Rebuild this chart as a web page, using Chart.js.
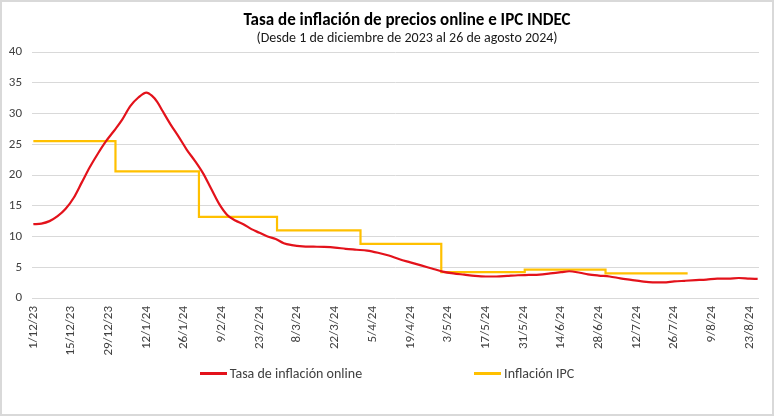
<!DOCTYPE html>
<html>
<head>
<meta charset="utf-8">
<title>Tasa de inflación de precios online e IPC INDEC</title>
<script src="https://cdn.jsdelivr.net/npm/chart.js@4"></script>
<style>
    body {
        margin: 0;
        background: #ffffff;
    }

    #wrap {
        position: relative;
        width: 774px;
        height: 416px;
        font-family: Carlito, Lato, sans-serif;
    }

    #frame {
        position: absolute;
        inset: 0;
        border: 2px solid #d9d9d9;
        pointer-events: none;
    }

    .head {
        position: absolute;
        left: 40px;
        width: 734px;
        text-align: center;
        white-space: nowrap;
    }

    #title {
        top: 9px;
        font-size: 17px;
        font-weight: bold;
        color: #000000;
    }

    #subtitle {
        top: 29px;
        font-size: 14px;
        color: #1a1a1a;
    }

    #legend {
        position: absolute;
        left: 0;
        top: 365px;
        width: 774px;
        display: flex;
        justify-content: center;
        gap: 112px;
        font-size: 14px;
        color: #404040;
    }

    .item {
        display: flex;
        align-items: center;
    }

    .swatch {
        width: 27px;
        height: 3px;
        margin-right: 3px;
    }
</style>
</head>
<body>

<div id="wrap">
    <canvas id="inflationChart" width="774" height="416"></canvas>
    <div id="title" class="head">Tasa de inflación de precios online e IPC INDEC</div>
    <div id="subtitle" class="head">(Desde 1 de diciembre de 2023 al 26 de agosto 2024)</div>
    <div id="legend"></div>
    <div id="frame"></div>
</div>

<script>

// days counted from 1/12/2023
const onlineDays = [
    0, 3, 6, 9, 12, 15, 18, 21, 24, 27, 30, 33, 36, 39, 42, 44, 46, 48,
    51, 54, 57, 60, 63, 66, 69, 72, 75, 78, 81, 84, 87, 90, 93, 96, 100,
    104, 108, 112, 116, 120, 124, 128, 132, 136, 140, 144, 148, 152, 156,
    160, 164, 168, 172, 176, 180, 184, 188, 192, 196, 199, 203, 206, 210,
    214, 218, 222, 226, 230, 234, 238, 242, 246, 250, 254, 258, 262, 266, 269
];

const onlineValues = [
    12.0, 12.1, 12.5, 13.3, 14.5, 16.3, 18.8, 21.3, 23.5, 25.5, 27.2, 29.0, 31.2, 32.6, 33.4, 32.9, 31.9, 30.4,
    28.2, 26.2, 24.1, 22.3, 20.3, 17.8, 15.3, 13.5, 12.6, 12.0, 11.2, 10.6, 10.0, 9.6, 8.9, 8.6, 8.4,
    8.35, 8.3, 8.2, 8.0, 7.85, 7.7, 7.35, 6.9, 6.3, 5.8, 5.3, 4.8, 4.3, 4.0,
    3.8, 3.6, 3.5, 3.5, 3.6, 3.7, 3.75, 3.8, 4.0, 4.2, 4.35, 4.1, 3.85, 3.65,
    3.5, 3.2, 2.95, 2.7, 2.55, 2.55, 2.7, 2.8, 2.9, 3.0, 3.15, 3.15, 3.25, 3.15, 3.1
];

// monthly IPC, each value starts around the first day of its month (last entry closes July)
const ipcDays = [0, 30.5, 61.5, 90.5, 121.5, 151.5, 182.5, 212.5, 243];
const ipcValues = [25.5, 20.6, 13.2, 11.0, 8.8, 4.2, 4.6, 4.0, 4.0];

const tickDays = [0, 14, 28, 42, 56, 70, 84, 98, 112, 126, 140, 154, 168, 182, 196, 210, 224, 238, 252, 266];

const tickLabels = [
    "1/12/23", "15/12/23", "29/12/23", "12/1/24", "26/1/24", "9/2/24", "23/2/24",
    "8/3/24", "22/3/24", "5/4/24", "19/4/24", "3/5/24", "17/5/24", "31/5/24",
    "14/6/24", "28/6/24", "12/7/24", "26/7/24", "9/8/24", "23/8/24"
];

const fontFamily = "Carlito, Lato, sans-serif";

function toPoints(xs, ys) {
    return xs.map((x, i) => ({ x: x, y: ys[i] }));
}

const ctx = document.getElementById("inflationChart");

const chart = new Chart(ctx, {

    type: "line",

    data: {

        datasets: [
            {
                label: "Tasa de inflación online",
                data: toPoints(onlineDays, onlineValues),
                borderColor: "#e3121b",
                borderWidth: 2.2,
                pointRadius: 0,
                cubicInterpolationMode: "monotone"
            },
            {
                label: "Inflación IPC",
                data: toPoints(ipcDays, ipcValues),
                borderColor: "#ffc000",
                borderWidth: 2.2,
                pointRadius: 0,
                stepped: "before"
            }
        ]

    },

    options: {

        responsive: false,
        animation: false,

        layout: {
            padding: { top: 52, right: 15, bottom: 0, left: 0 }
        },

        plugins: {
            legend: { display: false },
            tooltip: { enabled: false }
        },

        scales: {

            x: {
                type: "linear",
                min: -0.5,
                max: 269.5,
                grid: { display: false, drawTicks: false },
                border: { display: false },
                afterBuildTicks: (scale) => {
                    scale.ticks = tickDays.map((d) => ({ value: d }));
                },
                afterFit: (scale) => {
                    scale.height = 118;
                },
                ticks: {
                    autoSkip: false,
                    minRotation: 90,
                    maxRotation: 90,
                    padding: 8,
                    color: "#404040",
                    font: { family: fontFamily, size: 13 },
                    callback: (value) => tickLabels[tickDays.indexOf(value)]
                }
            },

            y: {
                min: 0,
                max: 40,
                grid: { color: "#d9d9d9", drawTicks: false },
                border: { display: false },
                afterFit: (scale) => {
                    scale.width = 32;
                },
                ticks: {
                    stepSize: 5,
                    padding: 10,
                    color: "#404040",
                    font: { family: fontFamily, size: 13 }
                }
            }

        }

    }

});

// legend drawn as html so the two entries can sit far apart like the original
const legend = document.getElementById("legend");

chart.data.datasets.forEach((ds) => {

    const item = document.createElement("div");
    item.className = "item";

    const swatch = document.createElement("span");
    swatch.className = "swatch";
    swatch.style.background = ds.borderColor;

    const text = document.createElement("span");
    text.innerText = ds.label;

    item.appendChild(swatch);
    item.appendChild(text);
    legend.appendChild(item);

});

</script>
</body>
</html>
